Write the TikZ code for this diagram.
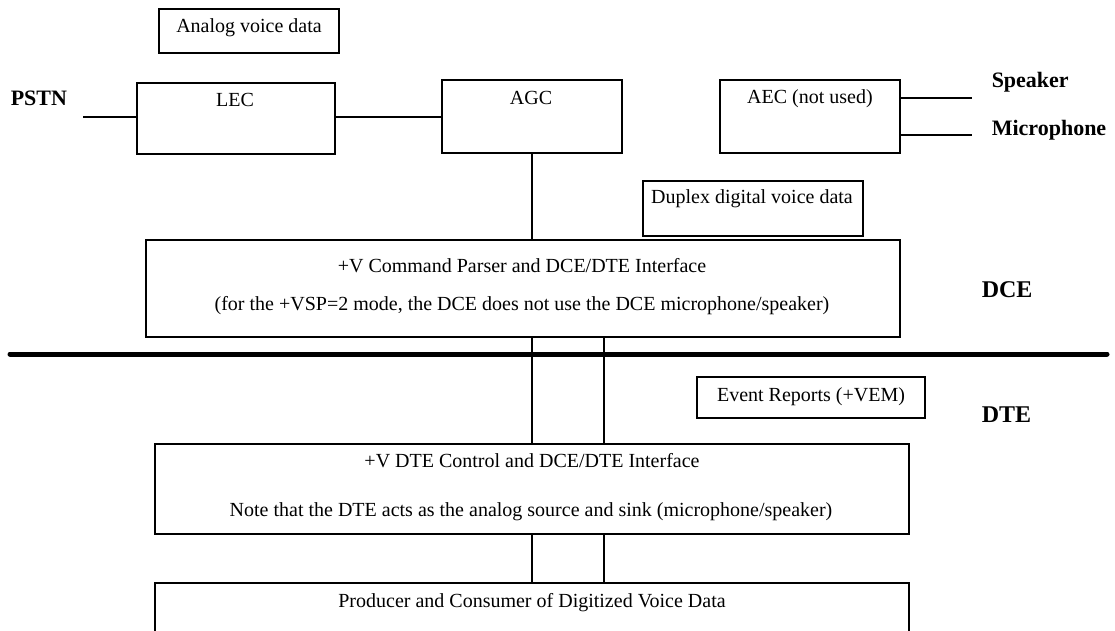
\documentclass[tikz,border=0pt]{standalone}
\usepackage{fontspec}
\setmainfont{Liberation Serif}
\tikzset{
  box/.style={draw,line width=1.5pt,inner sep=0pt},
  txt/.style={font=\fontsize{20}{24}\selectfont,inner sep=0pt,text height=14pt,text depth=4pt},
  side/.style={font=\fontsize{22}{26}\selectfont\bfseries,inner sep=0pt,anchor=base west},
  bigside/.style={side,font=\fontsize{24}{28}\selectfont\bfseries}
}
\begin{document}
\begin{tikzpicture}[x=1pt,y=-1pt,line width=1.5pt]
   \path[use as bounding box] (0,0) rectangle (1115,631);
   \clip (0,0) rectangle (1115,631);
   \node (avd) at (249,31) [box,minimum width=180pt,minimum height=44pt] {};
   \node (avdtext) at (249,28) [txt] {Analog voice data};
   \node (lec) at (236,118.5) [box,minimum width=198pt,minimum height=71pt] {};
   \node (lectext) at (235,102) [txt] {LEC};
   \node (agc) at (532,116.5) [box,minimum width=180pt,minimum height=73pt] {};
   \node (agctext) at (531,100) [txt] {AGC};
   \node (aec) at (810,116.5) [box,minimum width=180pt,minimum height=73pt] {};
   \node (aectext) at (810,99) [txt] {AEC (not used)};
   \node (duplex) at (753,208.5) [box,minimum width=220pt,minimum height=55pt] {};
   \node (duplextext) at (752,198) [txt] {Duplex digital voice data};
   \node (dce) at (523,288.5) [box,minimum width=754pt,minimum height=97pt] {};
   \node (dcetexta) at (522,267) [txt] {+V Command Parser and DCE/DTE Interface};
   \node (dcetextb) at (522,305) [txt] {(for the +VSP=2 mode, the DCE does not use the DCE microphone/speaker)};
   \node (event) at (811,397.5) [box,minimum width=228pt,minimum height=41pt] {};
   \node (eventtext) at (811,396) [txt] {Event Reports (+VEM)};
   \node (dte) at (532,489) [box,minimum width=754pt,minimum height=90pt] {};
   \node (dtetexta) at (532,462) [txt] {+V DTE Control and DCE/DTE Interface};
   \node (dtetextb) at (531,511) [txt] {Note that the DTE acts as the analog source and sink (microphone/speaker)};
   \node (prod) at (532,631.5) [box,minimum width=754pt,minimum height=97pt] {};
   \node (prodtext) at (532,602) [txt] {Producer and Consumer of Digitized Voice Data};
   \node (pstn) at (10,106) [side] {PSTN};
   \node (speaker) at (991,88) [side] {Speaker};
   \node (microphone) at (991,136) [side] {Microphone};
   \node (dcelabel) at (981,297) [bigside] {DCE};
   \node (dtelabel) at (981,422) [bigside] {DTE};
   \coordinate (pstnend) at (83,117);
   \coordinate (spkend) at (972,98);
   \coordinate (micend) at (972,135);
   \coordinate (busa) at (532,400);
   \coordinate (busb) at (604,400);
   \draw (pstnend) -- (pstnend -| lec.west);
   \draw (lec.east |- pstnend) -- (agc.west |- pstnend);
   \draw (agc.south) -- (agc.south |- dce.north);
   \draw (spkend -| aec.east) -- (spkend);
   \draw (micend -| aec.east) -- (micend);
   \draw (dce.south -| busa) -- (dte.north -| busa);
   \draw (dce.south -| busb) -- (dte.north -| busb);
   \draw (dte.south -| busa) -- (prod.north -| busa);
   \draw (dte.south -| busb) -- (prod.north -| busb);
   \draw[line width=5pt,line cap=round] (10,354) -- (1107,354);
  \end{tikzpicture}
\end{document}
